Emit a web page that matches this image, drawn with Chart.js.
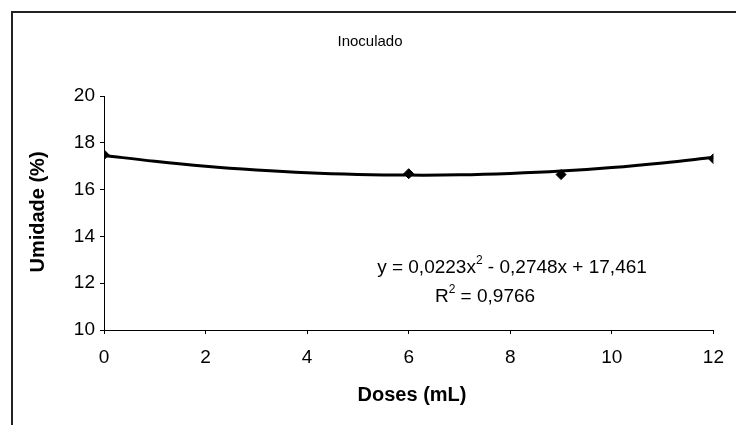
<!DOCTYPE html>
<html><head><meta charset="utf-8">
<script src="https://cdn.jsdelivr.net/npm/chart.js@4/dist/chart.umd.min.js"></script>
<style>
html,body{margin:0;padding:0;background:#fff;}
#wrap{position:relative;width:736px;height:425px;}
canvas{position:absolute;left:0;top:0;}
</style></head><body>
<div id="wrap"><canvas id="c" width="736" height="425"></canvas></div>
<script>
const doses = [0, 6, 9, 12];
const umidade = [17.49, 16.68, 16.64, 17.32];
const trendX = [0, 1, 2, 3, 4, 5, 6, 7, 8, 9, 10, 11, 12];
const trendY = [17.46, 17.21, 17.00, 16.84, 16.72, 16.65, 16.62, 16.63, 16.69, 16.79, 16.94, 17.14, 17.38];
const xTicks = [0, 2, 4, 6, 8, 10, 12];
const yTicks = [10, 12, 14, 16, 18, 20];
const chartTitle = 'Inoculado';
const xTitle = 'Doses (mL)';
const yTitle = 'Umidade (%)';
const eqParts = ['y = 0,0223x', '2', ' - 0,2748x + 17,461'];
const r2Parts = ['R', '2', ' = 0,9766'];

const FONT = "'Liberation Sans', Arial, sans-serif";

function drawSup(ctx, parts, cx, cy) {
  ctx.save();
  ctx.textBaseline = 'middle';
  ctx.textAlign = 'left';
  ctx.fillStyle = '#000';
  const big = '19px ' + FONT, small = '12px ' + FONT;
  ctx.font = big; const w0 = ctx.measureText(parts[0]).width;
  ctx.font = small; const w1 = ctx.measureText(parts[1]).width;
  ctx.font = big; const w2 = ctx.measureText(parts[2]).width;
  let x = cx - (w0 + w1 + w2) / 2;
  ctx.font = big; ctx.fillText(parts[0], x, cy); x += w0;
  ctx.font = small; ctx.fillText(parts[1], x, cy - 7); x += w1;
  ctx.font = big; ctx.fillText(parts[2], x, cy);
  ctx.restore();
}

const decor = {
  id: 'decor',
  afterDraw(chart) {
    const ctx = chart.ctx;
    ctx.save();
    ctx.strokeStyle = '#222';
    ctx.lineWidth = 2;
    ctx.beginPath();
    ctx.moveTo(12, 425); ctx.lineTo(12, 12); ctx.lineTo(736, 12);
    ctx.stroke();
    ctx.fillStyle = '#000';
    ctx.textAlign = 'center';
    ctx.textBaseline = 'middle';
    ctx.font = '15px ' + FONT;
    ctx.fillText(chartTitle, 370, 42);
    ctx.font = 'bold 20px ' + FONT;
    ctx.fillText(xTitle, 412, 395);
    ctx.save();
    ctx.translate(38, 212);
    ctx.rotate(-Math.PI / 2);
    ctx.fillText(yTitle, 0, 0);
    ctx.restore();
    ctx.restore();
    drawSup(ctx, eqParts, 512, 268);
    drawSup(ctx, r2Parts, 485, 297);
  }
};

new Chart(document.getElementById('c'), {
  type: 'scatter',
  data: {
    datasets: [
      {
        data: trendX.map((x, i) => ({ x, y: trendY[i] })),
        showLine: true,
        borderColor: '#000',
        borderWidth: 3,
        pointRadius: 0,
        tension: 0.4,
        order: 2
      },
      {
        data: doses.map((x, i) => ({ x, y: umidade[i] })),
        showLine: false,
        pointStyle: 'rectRot',
        pointRadius: 5,
        backgroundColor: '#000',
        borderColor: '#000',
        order: 1
      }
    ]
  },
  options: {
    responsive: false,
    animation: false,
    layout: { padding: { left: 0, right: 16, top: 96, bottom: 0 } },
    plugins: { legend: { display: false }, title: { display: false }, tooltip: { enabled: false } },
    scales: {
      x: {
        type: 'linear', min: 0, max: 12,
        afterBuildTicks: s => { s.ticks = xTicks.map(v => ({ value: v })); },
        afterFit: s => { s.height = 95; },
        grid: { drawOnChartArea: false, drawTicks: true, tickLength: 4, color: '#000' },
        border: { display: true, color: '#000', width: 1 },
        ticks: { font: { family: FONT, size: 19 }, color: '#000', padding: 12, maxRotation: 0 }
      },
      y: {
        min: 10, max: 20,
        afterBuildTicks: s => { s.ticks = yTicks.map(v => ({ value: v })); },
        afterFit: s => { s.width = 104; },
        grid: { drawOnChartArea: false, drawTicks: true, tickLength: 4, color: '#000' },
        border: { display: true, color: '#000', width: 1 },
        ticks: { font: { family: FONT, size: 19 }, color: '#000', padding: 5 }
      }
    }
  },
  plugins: [decor]
});
</script>
</body></html>
